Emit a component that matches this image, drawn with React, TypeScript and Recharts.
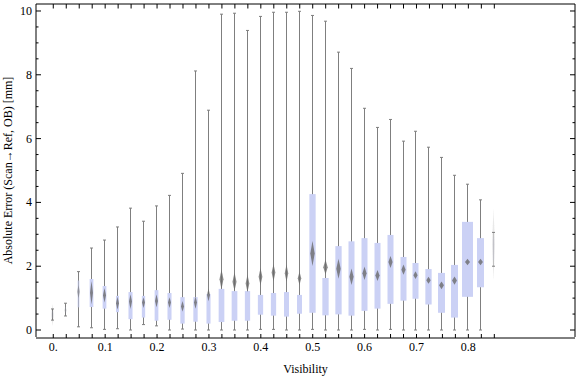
import React from 'react';
import { ComposedChart, Bar, XAxis, YAxis, Label } from 'recharts';

// visibility bins (one box per bin)
const bins = [
  0, 0.025, 0.05, 0.075, 0.1, 0.125, 0.15, 0.175, 0.2, 0.225, 0.25, 0.275,
  0.3, 0.325, 0.35, 0.375, 0.4, 0.425, 0.45, 0.475, 0.5, 0.525, 0.55, 0.575,
  0.6, 0.625, 0.65, 0.675, 0.7, 0.725, 0.75, 0.775, 0.8, 0.825, 0.85,
];

// absolute error [mm] statistics per bin
const whiskerLow = [
  0.31, 0.44, 0.1, 0.07, 0.02, 0.04, 0.0, 0.17, 0.13, 0.0, 0.03, 0.0,
  0.0, 0.0, 0.0, 0.0, 0.02, 0.02, 0.0, 0.0, 0.02, 0.0, 0.0, 0.0,
  0.02, 0.0, 0.02, 0.0, 0.0, 0.0, 0.0, 0.0, 0.0, 0.0, 2.0,
];
const quartileLow = [
  0.38, 0.55, 0.71, 0.72, 0.67, 0.56, 0.34, 0.39, 0.29, 0.32, 0.2, 0.26,
  0.2, 0.25, 0.29, 0.29, 0.48, 0.45, 0.42, 0.51, 0.54, 0.46, 0.49, 0.45,
  0.6, 0.67, 0.82, 0.92, 0.98, 0.8, 0.54, 0.39, 1.04, 1.34, 2.2,
];
const centre = [
  0.47, 0.62, 1.2, 1.17, 1.09, 0.84, 0.89, 0.86, 0.91, 0.86, 0.74, 0.86,
  1.1, 1.59, 1.51, 1.46, 1.67, 1.8, 1.78, 1.62, 2.4, 1.97, 1.92, 1.67,
  1.78, 1.71, 2.13, 1.89, 1.72, 1.56, 1.4, 1.55, 2.13, 2.13, 2.68,
];
const quartileHigh = [
  0.6, 0.72, 1.55, 1.6, 1.38, 1.07, 1.19, 1.07, 1.25, 1.16, 1.03, 1.03,
  1.13, 1.29, 1.22, 1.22, 1.1, 1.16, 1.19, 1.1, 4.26, 1.63, 2.63, 2.78,
  2.88, 2.73, 2.98, 2.29, 2.1, 1.91, 1.79, 2.04, 3.39, 2.88, 2.9,
];
const whiskerHigh = [
  0.66, 0.84, 1.83, 2.57, 2.82, 3.23, 3.82, 3.41, 3.89, 4.22, 4.91, 8.12,
  6.89, 9.9, 9.93, 9.39, 9.83, 9.96, 9.96, 9.99, 9.86, 9.68, 8.71, 8.2,
  6.95, 6.35, 6.6, 5.92, 6.23, 5.73, 5.41, 4.85, 4.57, 4.08, 3.06,
];
// half-height of the median marker
const spread = [
  0.34, 0.1, 0.2, 0.36, 0.23, 0.2, 0.23, 0.17, 0.2, 0.17, 0.17, 0.19,
  0.2, 0.31, 0.29, 0.27, 0.27, 0.27, 0.27, 0.21, 0.39, 0.23, 0.31, 0.26,
  0.21, 0.17, 0.19, 0.16, 0.12, 0.11, 0.12, 0.13, 0.1, 0.1, 1.11,
];
// relative sample weight (box width / opacity)
const weight = [
  0.25, 0.2, 0.35, 0.62, 0.62, 0.5, 0.67, 0.55, 0.62, 0.67, 0.72, 0.72,
  0.67, 0.95, 0.95, 0.88, 0.88, 0.88, 0.83, 0.83, 1.05, 1.05, 1.05, 1.0,
  1.0, 1.0, 1.0, 1.0, 1.0, 1.05, 1.17, 1.17, 1.83, 1.17, 0.25,
];

const xTickValues = [0, 0.1, 0.2, 0.3, 0.4, 0.5, 0.6, 0.7, 0.8];
const xTickLabels = ['0.', '0.1', '0.2', '0.3', '0.4', '0.5', '0.6', '0.7', '0.8'];
const yTickValues = [0, 0.5, 1, 1.5, 2, 2.5, 3, 3.5, 4, 4.5, 5, 5.5, 6, 6.5, 7, 7.5, 8, 8.5, 9, 9.5, 10];
const yTickLabels = [0, 2, 4, 6, 8, 10];

const X_DOMAIN: [number, number] = [-0.0333, 1.0055];
const Y_DOMAIN: [number, number] = [-0.219, 10.219];
const BOX_PX = 6;
const FONT = '"Liberation Serif", "Times New Roman", serif';

const rows = bins.map((v, i) => ({
  vis: v,
  range: [whiskerLow[i], whiskerHigh[i]],
  q1: quartileLow[i],
  q3: quartileHigh[i],
  mid: centre[i],
  notch: spread[i],
  w: weight[i],
}));

const BoxGlyph = (props: any) => {
  const { x, y, width, height, payload, index } = props;
  const [lo, hi] = payload.range;
  const k = height / (hi - lo);
  const py = (v: number) => y + (hi - v) * k;
  const cx = Math.round(x + width / 2 - 0.5) + 0.5;
  const yHi = py(hi);
  const yLo = py(lo);
  const yQ3 = py(payload.q3);
  const yQ1 = py(payload.q1);
  const yM = py(payload.mid);
  const bw = Math.max(1.2, payload.w * BOX_PX);
  const alpha = payload.w < 0.3 ? 0.18 : payload.w < 0.4 ? 0.55 : 1;
  const dh = payload.notch * k;
  const dw = Math.max(1.5, Math.min(2.5, bw * 0.35));
  return (
    <g>
      {index === 0 && (
        <defs>
          <filter id="soft" x="-3" y="-1" width="7" height="3">
            <feGaussianBlur stdDeviation="0.75" />
          </filter>
        </defs>
      )}
      <line x1={cx} x2={cx} y1={yHi} y2={yLo} stroke="#7f7f7f" strokeOpacity={index === 34 ? 0.35 : 1} />
      <line x1={cx - 1.5} x2={cx + 1.5} y1={yHi} y2={yHi} stroke="#7f7f7f" />
      <line x1={cx - 1.5} x2={cx + 1.5} y1={yLo} y2={yLo} stroke="#7f7f7f" />
      <rect x={cx - bw / 2} y={yQ3} width={bw} height={yQ1 - yQ3} fill="#cbd1f5" fillOpacity={alpha} />
      <polygon
        points={`${cx},${yM - dh} ${cx + dw},${yM} ${cx},${yM + dh} ${cx - dw},${yM}`}
        fill="#6a6a6a"
        fillOpacity={alpha * 0.8}
        filter="url(#soft)"
      />
    </g>
  );
};

const BottomMark = ({ x, y }: any) => (
  <line x1={x} x2={x} y1={y} y2={y - 4} stroke="#000" />
);
const TopMark = ({ x, y }: any) => (
  <line x1={x} x2={x} y1={y} y2={y + 4.5} stroke="#000" />
);
const BottomLabel = ({ x, y, index }: any) => (
  <text x={x} y={y + 14} textAnchor="middle" fontFamily={FONT} fontSize={12} fill="#000">
    {xTickLabels[index]}
  </text>
);
const LeftTick = ({ x, y, payload }: any) => {
  const major = yTickLabels.includes(payload.value);
  return (
    <g>
      <line x1={x} x2={x + (major ? 5 : 2.5)} y1={y} y2={y} stroke="#000" />
      {major && (
        <text x={x - 4} y={y + 4} textAnchor="end" fontFamily={FONT} fontSize={12} fill="#000">
          {payload.value}
        </text>
      )}
    </g>
  );
};
const RightTick = ({ x, y, payload }: any) => {
  const major = yTickLabels.includes(payload.value);
  return <line x1={x} x2={x - (major ? 5 : 2.5)} y1={y} y2={y} stroke="#000" />;
};

const App: React.FC = () => (
  <div style={{ position: 'absolute', left: 0, top: 0, width: 576, height: 377, background: '#fff' }}>
    <ComposedChart width={576} height={377} data={rows} margin={{ top: 3, right: 0, bottom: 38, left: 35 }}>
      <XAxis
        xAxisId="marks"
        dataKey="vis"
        type="number"
        domain={X_DOMAIN}
        allowDataOverflow
        ticks={bins}
        interval={0}
        height={1}
        tickSize={0}
        tickMargin={0}
        tickLine={false}
        axisLine={{ stroke: '#000' }}
        tick={BottomMark}
      />
      <XAxis
        xAxisId="labels"
        dataKey="vis"
        type="number"
        domain={X_DOMAIN}
        allowDataOverflow
        ticks={xTickValues}
        interval={0}
        height={1}
        tickSize={0}
        tickMargin={0}
        tickLine={false}
        axisLine={false}
        tick={BottomLabel}
      >
        <Label
          content={({ viewBox }: any) => (
            <text
              x={viewBox.x + viewBox.width / 2}
              y={viewBox.y + 36}
              textAnchor="middle"
              fontFamily={FONT}
              fontSize={12}
              fill="#000"
            >
              Visibility
            </text>
          )}
        />
      </XAxis>
      <XAxis
        xAxisId="top"
        orientation="top"
        dataKey="vis"
        type="number"
        domain={X_DOMAIN}
        allowDataOverflow
        ticks={bins}
        interval={0}
        height={1}
        tickSize={0}
        tickMargin={0}
        tickLine={false}
        axisLine={{ stroke: '#000' }}
        tick={TopMark}
      />
      <YAxis
        yAxisId="left"
        type="number"
        domain={Y_DOMAIN}
        allowDataOverflow
        ticks={yTickValues}
        interval={0}
        width={1}
        tickSize={0}
        tickMargin={0}
        tickLine={false}
        axisLine={{ stroke: '#000' }}
        tick={LeftTick}
      >
        <Label
          content={({ viewBox }: any) => {
            const lx = viewBox.x - 27;
            const ly = viewBox.y + viewBox.height / 2;
            return (
              <text
                x={lx}
                y={ly}
                transform={`rotate(-90 ${lx} ${ly})`}
                textAnchor="middle"
                dominantBaseline="central"
                fontFamily={FONT}
                fontSize={12}
                fill="#000"
              >
                Absolute Error (Scan→Ref, OB) [mm]
              </text>
            );
          }}
        />
      </YAxis>
      <YAxis
        yAxisId="right"
        orientation="right"
        type="number"
        domain={Y_DOMAIN}
        allowDataOverflow
        ticks={yTickValues}
        interval={0}
        width={1}
        tickSize={0}
        tickMargin={0}
        tickLine={false}
        axisLine={{ stroke: '#000' }}
        tick={RightTick}
      />
      <Bar
        xAxisId="marks"
        yAxisId="left"
        dataKey="range"
        barSize={6}
        shape={BoxGlyph}
        isAnimationActive={false}
      />
    </ComposedChart>
  </div>
);

export default App;
